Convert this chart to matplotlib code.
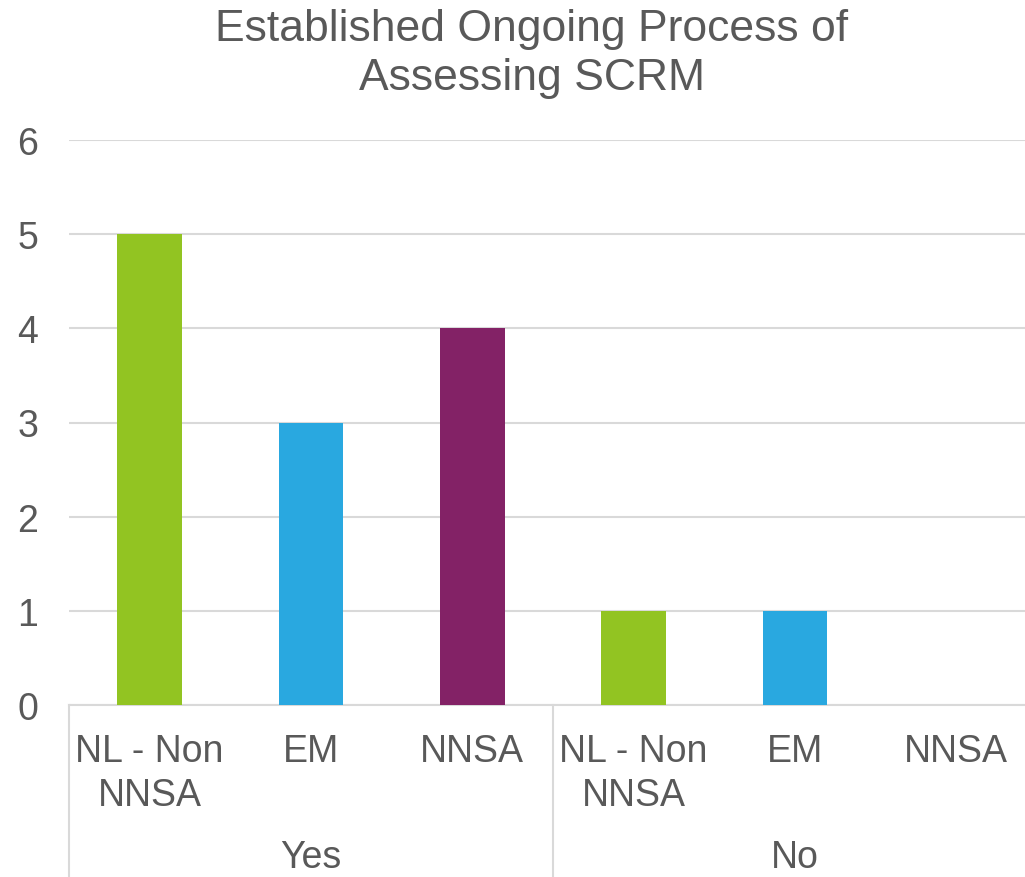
import matplotlib
matplotlib.use("Agg")
import matplotlib.pyplot as plt
import matplotlib.transforms as mtransforms
import numpy as np

plt.rcParams['font.family'] = ['Liberation Sans', 'DejaVu Sans']

title = "Established Ongoing Process of\nAssessing SCRM"
groups = ["Yes", "No"]
categories = ["NL - Non\nNNSA", "EM", "NNSA"]
yes_values = [5, 3, 4]
no_values = [1, 1, 0]
colors = ["#92C422", "#29A8E0", "#832266"]

text_color = "#595959"
grid_color = "#D9D9D9"

fig = plt.figure(figsize=(10.25, 8.78), dpi=100)
ax = fig.add_axes([69 / 1025, 1 - 706 / 878, 968 / 1025, 565 / 878])

values = yes_values + no_values
x = np.arange(len(values))
ax.bar(x, values, width=0.4, color=colors * len(groups), zorder=3)

ax.set_xlim(-0.5, len(values) - 0.5)
ax.set_ylim(0, 6)
ax.set_yticks(range(0, 7))
ax.yaxis.grid(True, color=grid_color, linewidth=1.5, zorder=0)
ax.set_xticks(x)
ax.set_xticklabels(categories * len(groups), fontsize=27, color=text_color,
                   linespacing=1.28)
ax.tick_params(axis='x', length=0, pad=20)
ax.tick_params(axis='y', length=0, pad=22, labelsize=27, labelcolor=text_color)

for s in ['top', 'right', 'left']:
    ax.spines[s].set_visible(False)
ax.spines['bottom'].set_color(grid_color)
ax.spines['bottom'].set_linewidth(1.5)

# group separators and group labels below the axis
trans = mtransforms.blended_transform_factory(ax.transData, ax.transAxes)
n = len(categories)
for g in range(len(groups) + 1):
    xe = g * n - 0.5
    ax.plot([xe, xe], [0, -0.31], transform=trans, color=grid_color,
            linewidth=1.5, clip_on=False)
for g, name in enumerate(groups):
    xc = g * n + (n - 1) / 2
    ax.text(xc, -(858 - 706) / 565, name, transform=trans, ha='center',
            va='center', fontsize=27, color=text_color)

fig.text(532 / 1025, 1 - 54 / 878, title, ha='center', va='center',
         fontsize=32, color=text_color, linespacing=1.22)

fig.savefig("out.png", dpi=100)
